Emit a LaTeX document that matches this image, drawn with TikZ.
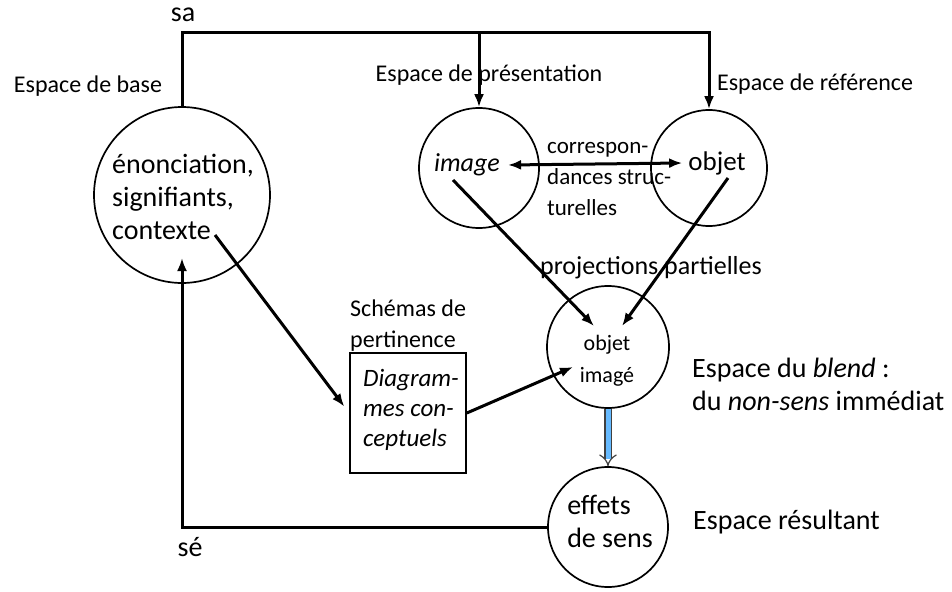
\documentclass[tikz,border=0pt]{standalone}
\usepackage{fontspec}
\setmainfont{Carlito}
\usetikzlibrary{arrows.meta}

\tikzstyle{space}=[draw, circle, line width=1.7pt, inner sep=0pt]
\tikzstyle{lbl}=[font=\fontsize{24}{31}\selectfont, inner sep=0pt]
\tikzstyle{big}=[font=\fontsize{28}{33}\selectfont, inner sep=0pt]
\tikzstyle{arrow}=[line width=3pt, -{Latex[length=13pt, width=10pt]}]
\tikzstyle{blendarrow}=[line width=1.2pt, draw=black!75, double=blue!45!cyan!60, double distance=5pt, -{Implies[length=6pt]}]

\begin{document}
\begin{tikzpicture}[x=1pt, y=-1pt]
      \useasboundingbox (0,0) rectangle (952,591);

      % the five spaces
      \node[space, minimum size=176pt] (base) at (182, 195) {};
      \node[space, minimum size=120pt] (pres) at (479, 168) {};
      \node[space, minimum size=116pt] (ref) at (709, 168) {};
      \node[space, minimum size=122pt] (blend) at (608, 347) {};
      \node[space, minimum size=120pt] (res) at (608, 527) {};
      \node[draw, line width=1.7pt, minimum width=116pt, minimum height=120pt] (box) at (408, 413) {};

      % texts inside
      \node[big, align=left, anchor=west] (basetxt) at (112, 197) {énonciation,\\signifiants,\\contexte};
      \node[big, font=\fontsize{26}{31}\selectfont\itshape] (imgtxt) at (467, 165) {image};
      \node[big, font=\fontsize{27}{31}\selectfont] (objtxt) at (717, 163) {objet};
      \node[lbl, font=\fontsize{22}{32}\selectfont, align=center] (oitxt) at (607, 361) {objet\\imagé};
      \node[big, align=left] (efftxt) at (610, 521) {effets\\de sens};
      \node[lbl, font=\fontsize{25}{30}\selectfont\itshape, align=left, anchor=west] (boxtxt) at (363, 410) {Diagram-\\mes con-\\ceptuels};
      \node[lbl, font=\fontsize{23}{31}\selectfont, align=left, anchor=west] (corr) at (547, 179) {correspon-\\dances struc-\\turelles};

      % labels
      \node[lbl] (lbase) at (88, 86) {Espace de base};
      \node[lbl] (lpres) at (489, 75) {Espace de présentation};
      \node[lbl] (lref) at (815, 84) {Espace de référence};
      \node[lbl, font=\fontsize{26}{31}\selectfont] (lproj) at (651, 268) {projections partielles};
      \node[lbl, align=left, anchor=west] (lschema) at (350, 326) {Schémas de\\pertinence};
      \node[big, align=left, anchor=west] (lblend) at (692, 384) {Espace du \textit{blend} :\\du \textit{non-sens} immédiat};
      \node[big, anchor=west] (lres) at (693, 522) {Espace résultant};
      \node[big, anchor=base] (sa) at (183, 22) {sa};
      \node[big] (se) at (190, 547) {sé};

      % corners and inner ends
      \coordinate (saL) at (182, 33);
      \coordinate (saM) at (479, 33);
      \coordinate (saR) at (709, 33);
      \coordinate (seC) at (182, 527);
      \coordinate (baseIn) at (182, 258);
      \coordinate (ctx) at (215, 235);
      \coordinate (imgOut) at (453, 180);
      \coordinate (objOut) at (728, 178);
      \coordinate (blendL) at (594, 326);
      \coordinate (blendR) at (622, 326);
      \coordinate (blendW) at (573, 367);

      \draw[arrow] (base.north) -- (saL) -- (saR) -- (ref.north);
      \draw[arrow] (saM) -- (pres.north);
      \draw[arrow, {Latex[length=13pt, width=10pt]}-{Latex[length=13pt, width=10pt]}] (imgtxt.east) ++(8,0) -- ([xshift=-6pt]objtxt.west);
      \draw[arrow] (imgOut) -- (blendL);
      \draw[arrow] (objOut) -- (blendR);
      \draw[arrow, shorten >=8pt] (ctx) -- (box.west);
      \draw[arrow] (box.east) -- (blendW);
      \draw[blendarrow] (blend.south) -- (res.north);
      \draw[arrow] (res.west) -- (seC) -- (baseIn);
    \end{tikzpicture}
\end{document}
